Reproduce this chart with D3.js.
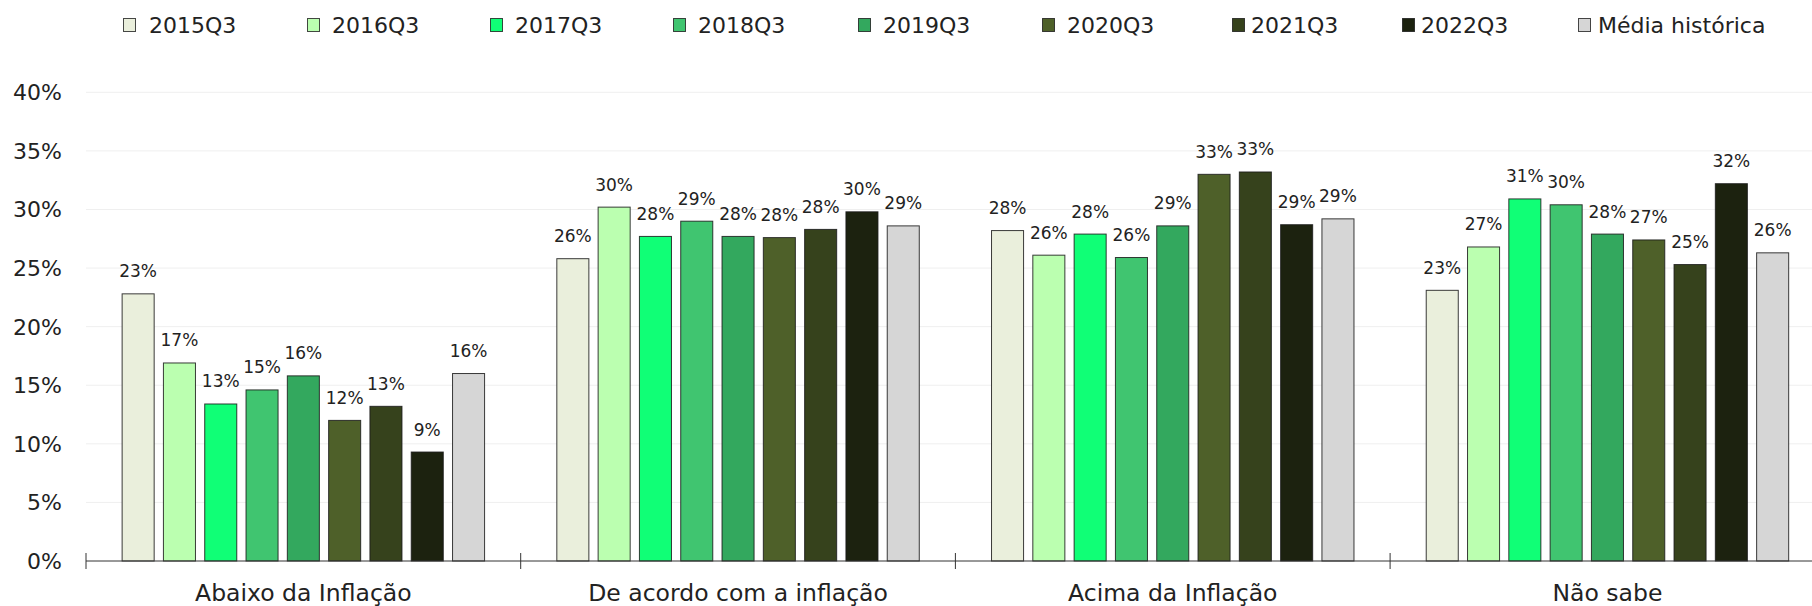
<!DOCTYPE html>
<html>
<head>
<meta charset="utf-8">
<script src="https://cdn.jsdelivr.net/npm/d3@7"></script>
<style>
  html, body { margin: 0; padding: 0; background: #fff; }
  svg { display: block; font-family: "DejaVu Sans", sans-serif; }
</style>
</head>
<body>
<svg id="chart" width="1812" height="606"></svg>
<script>
// Categories of salary adjustment expectation
const categories = ["Abaixo da Inflação", "De acordo com a inflação", "Acima da Inflação", "Não sabe"];

// Survey waves (series) and the historical mean
const series = ["2015Q3", "2016Q3", "2017Q3", "2018Q3", "2019Q3", "2020Q3", "2021Q3", "2022Q3", "Média histórica"];

// Share of respondents (%) per category, one array per series
const v2015Q3 = [22.8, 25.8, 28.2, 23.1];
const v2016Q3 = [16.9, 30.2, 26.1, 26.8];
const v2017Q3 = [13.4, 27.7, 27.9, 30.9];
const v2018Q3 = [14.6, 29.0, 25.9, 30.4];
const v2019Q3 = [15.8, 27.7, 28.6, 27.9];
const v2020Q3 = [12.0, 27.6, 33.0, 27.4];
const v2021Q3 = [13.2, 28.3, 33.2, 25.3];
const v2022Q3 = [9.3, 29.8, 28.7, 32.2];
const vMedia  = [16.0, 28.6, 29.2, 26.3];

const seriesValues = [v2015Q3, v2016Q3, v2017Q3, v2018Q3, v2019Q3, v2020Q3, v2021Q3, v2022Q3, vMedia];

// Y axis ticks
const yTicks = [0, 5, 10, 15, 20, 25, 30, 35, 40];

const colors = ["#eaefdc", "#bbffb0", "#10ff76", "#40c570", "#33a85e", "#4e6029", "#36421c", "#1c220f", "#d6d6d6"];

const W = 1812;
const svg = d3.select("#chart");

const plotLeft = 86, plotBottom = 561, plotTop = 92.3;
const bandW = 434.7;

const x0 = d3.scaleBand().domain(categories).range([plotLeft, plotLeft + bandW * categories.length]).padding(0);
const x1 = d3.scaleBand().domain(series).range([0, x0.bandwidth()]).paddingInner(0.2).paddingOuter(0.8625);
const y = d3.scaleLinear().domain([0, 40]).range([plotBottom, plotTop]);
const color = d3.scaleOrdinal().domain(series).range(colors);

// Horizontal gridlines
svg.append("g").selectAll("line")
  .data(yTicks.filter(t => t > 0))
  .join("line")
  .attr("x1", plotLeft).attr("x2", W)
  .attr("y1", d => y(d)).attr("y2", d => y(d))
  .attr("stroke", "#efefef").attr("stroke-width", 1);

// Y tick labels
svg.append("g").selectAll("text")
  .data(yTicks)
  .join("text")
  .attr("x", 62).attr("y", d => y(d) + 8)
  .attr("text-anchor", "end")
  .attr("font-size", 22).attr("fill", "#222")
  .text(d => d + "%");

// Bars grouped by category
const rows = categories.map((c, i) => ({ cat: c, vals: series.map((s, j) => ({ s, v: seriesValues[j][i] })) }));

const groups = svg.append("g").selectAll("g")
  .data(rows)
  .join("g")
  .attr("transform", d => `translate(${x0(d.cat)},0)`);

groups.selectAll("rect")
  .data(d => d.vals)
  .join("rect")
  .attr("x", d => x1(d.s) + 0.5)
  .attr("y", d => y(d.v))
  .attr("width", x1.bandwidth() - 1)
  .attr("height", d => plotBottom - y(d.v))
  .attr("fill", d => color(d.s))
  .attr("stroke", "#1a1a1a").attr("stroke-opacity", 0.85).attr("stroke-width", 1);

groups.selectAll("text")
  .data(d => d.vals)
  .join("text")
  .attr("x", d => x1(d.s) + x1.bandwidth() / 2)
  .attr("y", d => y(d.v) - 16.5)
  .attr("text-anchor", "middle")
  .attr("font-size", 17).attr("fill", "#222")
  .text(d => Math.round(d.v) + "%");

// X axis line with boundary ticks
svg.append("line")
  .attr("x1", plotLeft).attr("x2", W)
  .attr("y1", plotBottom).attr("y2", plotBottom)
  .attr("stroke", "#333").attr("stroke-width", 1);

svg.append("g").selectAll("line")
  .data(categories)
  .join("line")
  .attr("x1", d => x0(d)).attr("x2", d => x0(d))
  .attr("y1", plotBottom - 8).attr("y2", plotBottom + 8)
  .attr("stroke", "#333").attr("stroke-width", 1);

svg.append("g").selectAll("text")
  .data(categories)
  .join("text")
  .attr("x", d => x0(d) + x0.bandwidth() / 2)
  .attr("y", 601)
  .attr("text-anchor", "middle")
  .attr("font-size", 23.5).attr("fill", "#222")
  .text(d => d);

// Legend
const legendX = [123, 307, 490, 673, 858, 1042, 1232, 1402, 1578];
const legendTextGap = [26, 25, 25, 25, 25, 25, 19, 19, 20];
const legend = svg.append("g").selectAll("g")
  .data(series)
  .join("g")
  .attr("transform", (d, i) => `translate(${legendX[i]},0)`);

legend.append("rect")
  .attr("x", 0.5).attr("y", 18.5)
  .attr("width", 12).attr("height", 13)
  .attr("fill", d => color(d))
  .attr("stroke", "#1a1a1a").attr("stroke-opacity", 0.8).attr("stroke-width", 1);

legend.append("text")
  .attr("x", (d, i) => legendTextGap[i])
  .attr("y", 32.5)
  .attr("font-size", 22).attr("fill", "#222")
  .text(d => d);
</script>
</body>
</html>
